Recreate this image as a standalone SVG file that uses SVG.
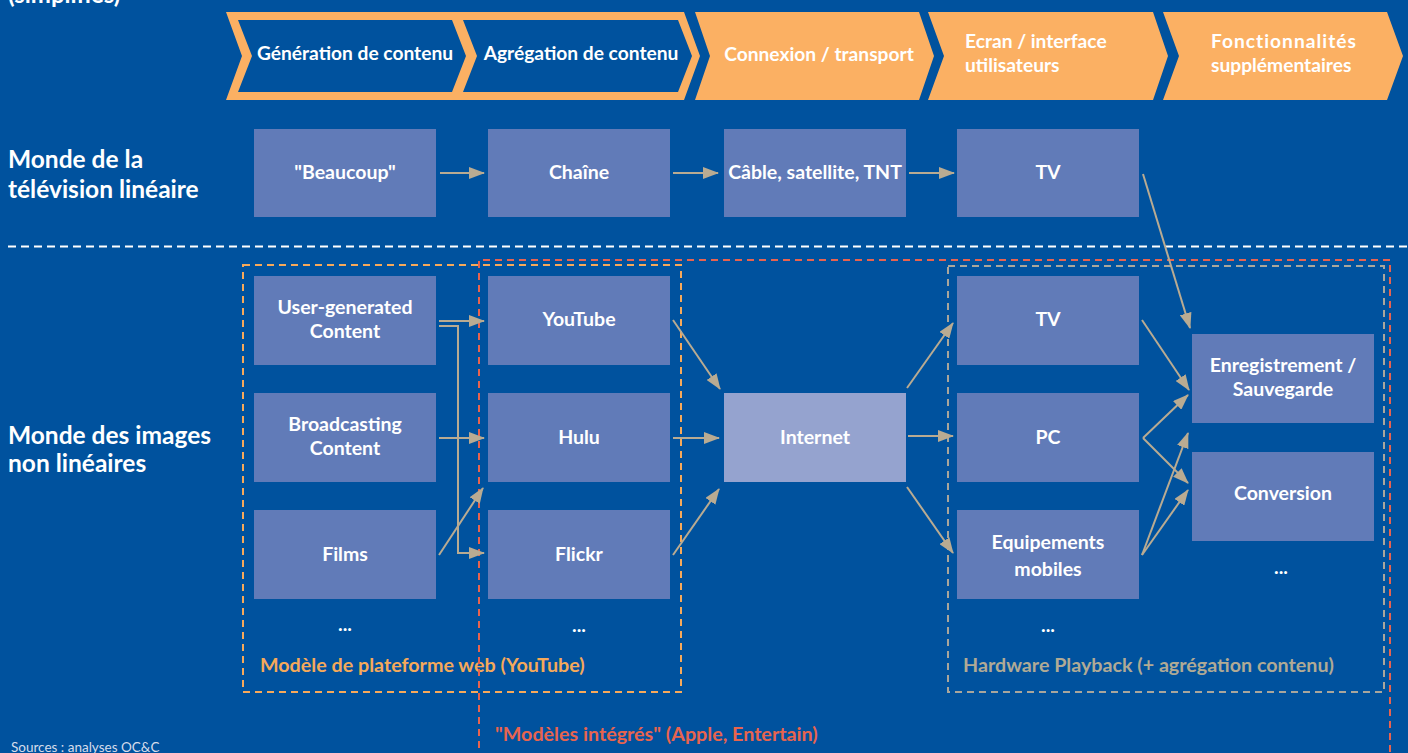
<svg xmlns="http://www.w3.org/2000/svg" width="1408" height="753" viewBox="0 0 1408 753">
  <style>
    .bg { fill: #00529E; }
    .node { fill: #617BB8; }
    .node-hi { fill: #95A3CF; }
    .t { font-family: Lato, "Open Sans", "Liberation Sans", sans-serif; font-weight: bold; fill: #FFFFFF; }
    .nt { font-size: 19.5px; text-anchor: middle; }
    .hd { font-size: 19.2px; }
    .rl { font-size: 24.5px; }
    .conn { stroke: #B9AB92; stroke-width: 2; fill: none; marker-end: url(#ah); }
    .grp { fill: none; stroke-width: 2; stroke-dasharray: 7 5; }
    .lbl { font-family: Lato, "Open Sans", "Liberation Sans", sans-serif; font-weight: bold; font-size: 19.7px; }
  </style>
  <defs>
    <marker id="ah" viewBox="0 0 16 12" refX="15" refY="6" markerWidth="16" markerHeight="12" markerUnits="userSpaceOnUse" orient="auto">
      <path d="M0,0 L16,6 L0,12 z" fill="#B9AB92"/>
    </marker>
  </defs>

  <rect class="bg" x="0" y="0" width="1408" height="753"/>

  <!-- title (runs off the top edge) -->
  <text class="t" x="8" y="3" font-size="24">(simplifiés)</text>

  <!-- value chain header -->
  <g id="chain">
    <polygon points="226,12 684,12 700,56 684,100 226,100 242,56" fill="#FBB063"/>
    <polygon points="238,20 452,20 466,56 452,92 238,92 252,56" fill="#00529E"/>
    <polygon points="463,20 678,20 692,56 678,92 463,92 477,56" fill="#00529E"/>
    <polygon points="695,12 919,12 934,56 919,100 695,100 710,56" fill="#FBB063"/>
    <polygon points="928,12 1153,12 1168,56 1153,100 928,100 944,56" fill="#FBB063"/>
    <polygon points="1163,12 1387,12 1403,56 1387,100 1163,100 1179,56" fill="#FBB063"/>
    <text class="t hd" x="355" y="60" text-anchor="middle">Génération de contenu</text>
    <text class="t hd" x="581" y="60" text-anchor="middle">Agrégation de contenu</text>
    <text class="t hd" x="819" y="61" text-anchor="middle">Connexion / transport</text>
    <text class="t hd" x="965" y="48">Ecran / interface</text>
    <text class="t hd" x="965" y="72">utilisateurs</text>
    <text class="t hd" x="1211" y="48" letter-spacing="1">Fonctionnalités</text>
    <text class="t hd" x="1211" y="72">supplémentaires</text>
  </g>

  <!-- row labels -->
  <g id="row-labels">
    <text class="t rl" x="8" y="168">Monde de la</text>
    <text class="t rl" x="8" y="198">télévision linéaire</text>
    <text class="t rl" x="8" y="444">Monde des images</text>
    <text class="t rl" x="8" y="472">non linéaires</text>
  </g>

  <!-- separator between the two worlds -->
  <line x1="8" y1="246.5" x2="1408" y2="246.5" stroke="#FFFFFF" stroke-width="2" stroke-dasharray="8 5"/>

  <!-- grouping frames -->
  <g id="frame-web">
    <rect class="grp" x="243" y="265" width="438" height="427" stroke="#F7A95A"/>
    <text class="lbl" x="260" y="672" fill="#F5A95A">Modèle de plateforme web (YouTube)</text>
  </g>
  <g id="frame-integrated">
    <path class="grp" d="M479,760 V260 H1390 V760" stroke="#E8634F"/>
    <text class="lbl" x="495" y="741" fill="#E8644E">"Modèles intégrés" (Apple, Entertain)</text>
  </g>
  <g id="frame-hardware">
    <rect class="grp" x="948" y="266" width="436" height="426" stroke="#A9A69C"/>
    <text class="lbl" x="963" y="672" fill="#B0AA95">Hardware Playback (+ agrégation contenu)</text>
  </g>

  <!-- linear TV row -->
  <g id="n-beaucoup"><rect class="node" x="254" y="129" width="182" height="88"/><text class="t nt" x="345" y="179">"Beaucoup"</text></g>
  <g id="n-chaine"><rect class="node" x="488" y="129" width="182" height="88"/><text class="t nt" x="579" y="179">Chaîne</text></g>
  <g id="n-cable"><rect class="node" x="724" y="129" width="182" height="88"/><text class="t nt" x="815" y="179">Câble, satellite, TNT</text></g>
  <g id="n-tv1"><rect class="node" x="957" y="129" width="182" height="88"/><text class="t nt" x="1048" y="179">TV</text></g>

  <!-- non-linear row: content -->
  <g id="n-ugc"><rect class="node" x="254" y="276" width="182" height="89"/><text class="t nt" x="345" y="314">User-generated</text><text class="t nt" x="345" y="338">Content</text></g>
  <g id="n-broadcast"><rect class="node" x="254" y="393" width="182" height="89"/><text class="t nt" x="345" y="431">Broadcasting</text><text class="t nt" x="345" y="455">Content</text></g>
  <g id="n-films"><rect class="node" x="254" y="510" width="182" height="89"/><text class="t nt" x="345" y="561">Films</text></g>
  <g id="n-more1"><text class="t nt" x="345" y="631">...</text></g>

  <!-- platforms -->
  <g id="n-youtube"><rect class="node" x="488" y="276" width="182" height="89"/><text class="t nt" x="579" y="326">YouTube</text></g>
  <g id="n-hulu"><rect class="node" x="488" y="393" width="182" height="89"/><text class="t nt" x="579" y="444">Hulu</text></g>
  <g id="n-flickr"><rect class="node" x="488" y="510" width="182" height="89"/><text class="t nt" x="579" y="561">Flickr</text></g>
  <g id="n-more2"><text class="t nt" x="579" y="632">...</text></g>

  <!-- transport -->
  <g id="n-internet"><rect class="node-hi" x="724" y="393" width="182" height="89"/><text class="t nt" x="815" y="444">Internet</text></g>

  <!-- devices -->
  <g id="n-tv2"><rect class="node" x="957" y="276" width="182" height="89"/><text class="t nt" x="1048" y="326">TV</text></g>
  <g id="n-pc"><rect class="node" x="957" y="393" width="182" height="89"/><text class="t nt" x="1048" y="444">PC</text></g>
  <g id="n-mobile"><rect class="node" x="957" y="510" width="182" height="89"/><text class="t nt" x="1048" y="549">Equipements</text><text class="t nt" x="1048" y="576">mobiles</text></g>
  <g id="n-more3"><text class="t nt" x="1048" y="632">...</text></g>

  <!-- extra features -->
  <g id="n-record"><rect class="node" x="1192" y="334" width="182" height="89"/><text class="t nt" x="1283" y="372">Enregistrement /</text><text class="t nt" x="1283" y="396">Sauvegarde</text></g>
  <g id="n-conversion"><rect class="node" x="1192" y="452" width="182" height="89"/><text class="t nt" x="1283" y="500">Conversion</text></g>
  <g id="n-more4"><text class="t nt" x="1281" y="574">...</text></g>

  <!-- connectors -->
  <g id="connectors">
    <line class="conn" x1="440" y1="173" x2="484" y2="173"/>
    <line class="conn" x1="673" y1="173" x2="718" y2="173"/>
    <line class="conn" x1="909" y1="173" x2="954" y2="173"/>
    <line class="conn" x1="1143" y1="174" x2="1190" y2="328"/>

    <line class="conn" x1="439" y1="321" x2="484" y2="321"/>
    <polyline class="conn" points="439,326 458,326 458,553 484,553"/>
    <line class="conn" x1="439" y1="438" x2="484" y2="438"/>
    <line class="conn" x1="439" y1="555" x2="483" y2="488"/>

    <line class="conn" x1="673" y1="320" x2="720" y2="389"/>
    <line class="conn" x1="673" y1="438" x2="719" y2="438"/>
    <line class="conn" x1="673" y1="555" x2="719" y2="489"/>

    <line class="conn" x1="907" y1="388" x2="953" y2="323"/>
    <line class="conn" x1="908" y1="436" x2="953" y2="436"/>
    <line class="conn" x1="907" y1="487" x2="953" y2="553"/>

    <line class="conn" x1="1142" y1="320" x2="1189" y2="390"/>
    <line class="conn" x1="1143" y1="438" x2="1188" y2="395"/>
    <line class="conn" x1="1143" y1="438" x2="1188" y2="483"/>
    <line class="conn" x1="1142" y1="555" x2="1188" y2="433"/>
    <line class="conn" x1="1142" y1="555" x2="1188" y2="490"/>
  </g>

  <!-- footnote -->
  <text x="11" y="752" font-family="Lato, 'Open Sans', 'Liberation Sans', sans-serif" font-size="13.5" fill="#D5DCEB">Sources : analyses OC&amp;C</text>
</svg>
